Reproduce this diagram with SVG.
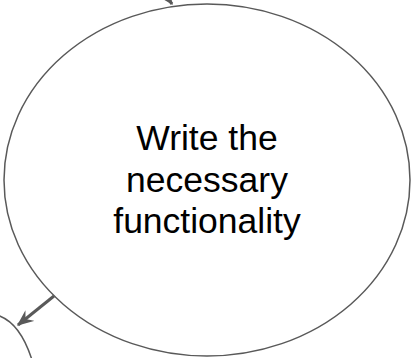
<svg xmlns="http://www.w3.org/2000/svg" width="411" height="358" viewBox="0 0 411 358">
  <style>
    .node { fill: #ffffff; stroke: #595959; stroke-width: 1.5; }
    .edge { fill: none; stroke: #595959; stroke-width: 3; }
    .label { font-family: "Liberation Sans", Arial, sans-serif; font-size: 35.5px; fill: #000000; text-anchor: middle; }
  </style>
  <defs>
    <marker id="arrow" viewBox="0 0 12 10" refX="11" refY="5" markerWidth="5.5" markerHeight="5" markerUnits="strokeWidth" orient="auto">
      <path d="M0,0 L12,5 L0,10 L4,5 Z" fill="#595959"/>
    </marker>
  </defs>

  <!-- neighbouring node, partly off-canvas at bottom left -->
  <g id="node-next">
    <path class="node" d="M -3 315 Q 20 322 32 360" fill="none"/>
  </g>

  <!-- main node -->
  <g id="node-write">
    <ellipse class="node" cx="207" cy="180" rx="203" ry="176"/>
    <text class="label" x="207" y="150">Write the</text>
    <text class="label" x="207" y="192">necessary</text>
    <text class="label" x="207" y="233">functionality</text>
  </g>

  <!-- connectors -->
  <g id="connectors">
    <line class="edge" x1="140" y1="-40" x2="172" y2="4" marker-end="url(#arrow)"/>
    <line class="edge" x1="54" y1="296" x2="18" y2="325" marker-end="url(#arrow)"/>
  </g>
</svg>
